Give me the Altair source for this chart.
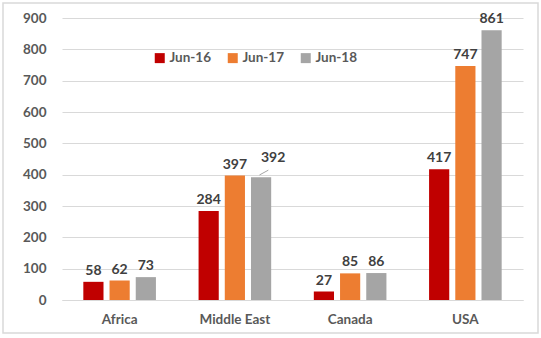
import altair as alt
import pandas as pd

regions = ["Africa", "Middle East", "Canada", "USA"]
series = ["Jun-16", "Jun-17", "Jun-18"]
jun16 = [58, 284, 27, 417]
jun17 = [62, 397, 85, 747]
jun18 = [73, 392, 86, 861]
colors = ["#C00000", "#ED7D31", "#A5A5A5"]

rows = []
for i, r in enumerate(regions):
    for s, vals in zip(series, [jun16, jun17, jun18]):
        rows.append({"region": r, "series": s, "value": vals[i]})
df = pd.DataFrame(rows)

FONT = "Lato"
W, H = 461, 282

x = alt.X("region:N", sort=regions, title=None,
          scale=alt.Scale(paddingInner=0.37, paddingOuter=0.185),
          axis=alt.Axis(labelAngle=0, labelFont=FONT, labelFontSize=13.5, labelFontWeight="bold",
                        labelColor="#595959", ticks=False, domainColor="#d9d9d9",
                        labelPadding=12))
xo = alt.XOffset("series:N", sort=series, scale=alt.Scale(paddingInner=0.23, paddingOuter=0))
y = alt.Y("value:Q", title=None,
          scale=alt.Scale(domain=[0, 900]),
          axis=alt.Axis(values=list(range(0, 901, 100)), labelFont=FONT, labelFontSize=13.5,
                        labelFontWeight="bold", labelColor="#595959", ticks=False, domain=False,
                        gridColor="#d9d9d9", labelPadding=16))

base = alt.Chart(df)

bars = base.mark_bar().encode(
    x=x, xOffset=xo, y=y,
    color=alt.Color("series:N", sort=series, title=None,
                    scale=alt.Scale(domain=series, range=colors),
                    legend=alt.Legend(orient="none", legendX=91, legendY=33, direction="horizontal",
                                      symbolType="square", symbolSize=100, symbolStrokeWidth=0,
                                      labelFont=FONT, labelFontSize=13.5, labelFontWeight="bold",
                                      labelColor="#595959", columnPadding=14, labelOffset=3)),
)

is_me18 = (alt.datum.region == "Middle East") & (alt.datum.series == "Jun-18")

labels_main = base.transform_filter(~is_me18).mark_text(
    dy=-11, font=FONT, fontSize=14, fontWeight="bold", color="#404040"
).encode(x=x, xOffset=xo, y=y, text="value:Q")

labels_me = base.transform_filter(is_me18).mark_text(
    dy=-19, dx=12, font=FONT, fontSize=14, fontWeight="bold", color="#404040"
).encode(x=x, xOffset=xo, y=y, text="value:Q")

leader = base.transform_filter(is_me18).mark_point(
    shape="M-0.2,0.1L0.9,-0.5", filled=False, stroke="#a6a6a6", strokeWidth=1, size=260,
    xOffset=3, yOffset=-3, opacity=1
).encode(x=x, xOffset=xo, y=y)

border = alt.Chart(pd.DataFrame({"a": [0]})).mark_rect(
    fill=None, stroke="#d9d9d9", strokeWidth=1.5, clip=False
).encode(x=alt.value(-59), x2=alt.value(476), y=alt.value(-15), y2=alt.value(315))

chart = alt.layer(border, bars, leader, labels_main, labels_me).properties(
    width=W, height=H,
    padding={"left": 62, "top": 18, "right": 18, "bottom": 38},
    autosize=alt.AutoSizeParams(type="none"),
    background="white",
).configure_view(stroke=None)

chart.save("out.html", embed_options={"renderer": "svg", "actions": False})
